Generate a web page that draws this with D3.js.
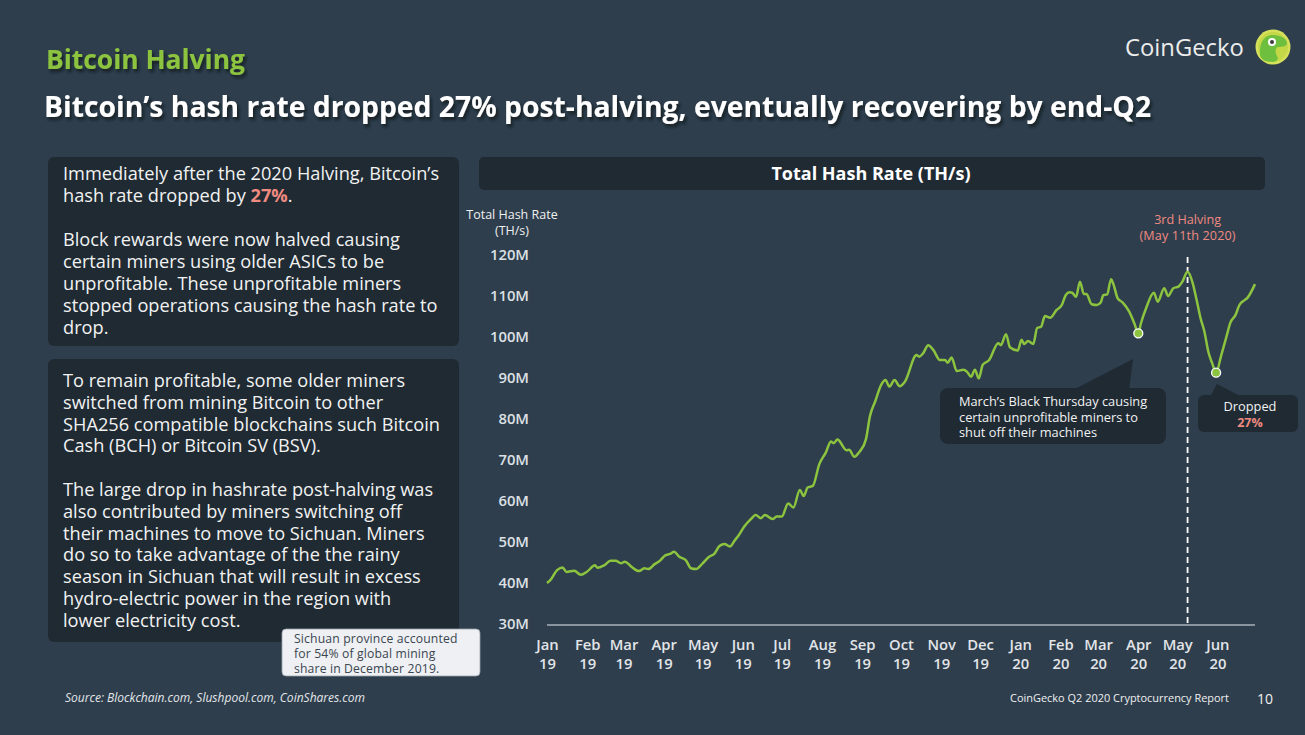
<!DOCTYPE html>
<html>
<head>
<meta charset="utf-8">
<script src="https://cdn.jsdelivr.net/npm/d3@7"></script>
<style>
  html, body { margin: 0; padding: 0; background: #2e3e4d; }
  svg { display: block; }
  text { font-family: "Open Sans", "Noto Sans", sans-serif; }
</style>
</head>
<body>
<svg id="chart" width="1305" height="735"></svg>
<script>
// ---------------- DATA ----------------
const hashDates = [
  "2019-01-01","2019-01-03","2019-01-09","2019-01-13","2019-01-16","2019-01-22","2019-01-27",
  "2019-02-01","2019-02-07","2019-02-09","2019-02-14","2019-02-19","2019-02-23","2019-02-27",
  "2019-03-02","2019-03-07","2019-03-13","2019-03-17","2019-03-20","2019-03-25","2019-03-29",
  "2019-04-02","2019-04-06","2019-04-09","2019-04-13","2019-04-18","2019-04-22","2019-04-26",
  "2019-05-01","2019-05-06","2019-05-10","2019-05-14","2019-05-18","2019-05-22","2019-05-26","2019-05-29",
  "2019-06-02","2019-06-07","2019-06-11","2019-06-15","2019-06-18","2019-06-24","2019-06-27",
  "2019-07-01","2019-07-06","2019-07-10","2019-07-15","2019-07-18","2019-07-21","2019-07-25","2019-07-30",
  "2019-08-04","2019-08-08","2019-08-10","2019-08-13","2019-08-20","2019-08-22","2019-08-26","2019-08-30",
  "2019-09-04","2019-09-07","2019-09-11","2019-09-16","2019-09-19","2019-09-22","2019-09-26","2019-09-30",
  "2019-10-04","2019-10-13","2019-10-15","2019-10-18","2019-10-22","2019-10-26","2019-10-31",
  "2019-11-04","2019-11-06","2019-11-09","2019-11-13","2019-11-18","2019-11-21","2019-11-24","2019-11-27","2019-11-30",
  "2019-12-03","2019-12-08","2019-12-15","2019-12-17","2019-12-21","2019-12-24","2019-12-30",
  "2020-01-02","2020-01-04","2020-01-07","2020-01-11","2020-01-14","2020-01-17","2020-01-20","2020-01-24","2020-01-29",
  "2020-02-02","2020-02-05","2020-02-08","2020-02-10","2020-02-13","2020-02-16","2020-02-19","2020-02-21","2020-02-25","2020-02-29",
  "2020-03-03","2020-03-05","2020-03-08","2020-03-11","2020-03-13","2020-03-16","2020-03-20","2020-03-25","2020-03-29",
  "2020-04-01","2020-04-03","2020-04-07","2020-04-13","2020-04-16","2020-04-21","2020-04-24","2020-04-28",
  "2020-05-02","2020-05-05","2020-05-09","2020-05-13","2020-05-16","2020-05-19","2020-05-22","2020-05-25","2020-05-28","2020-05-31",
  "2020-06-04","2020-06-08","2020-06-11","2020-06-15","2020-06-18","2020-06-22","2020-06-24","2020-06-30"
];
const hashValues = [
  40.0,40.5,43.2,43.8,42.7,43.0,42.0,
  42.8,44.3,43.7,44.3,45.4,45.4,44.8,
  45.2,44.0,42.9,43.6,43.4,44.6,45.4,
  46.7,47.1,47.6,46.4,45.6,43.6,43.4,
  44.8,46.4,47.1,49.0,49.5,48.9,50.5,51.7,
  53.7,55.5,56.6,55.8,56.6,55.6,56.2,
  56.2,59.4,58.4,62.7,61.2,63.3,63.7,69.0,
  71.8,74.5,74.1,75.0,72.4,72.5,70.8,72.0,
  75.1,80.6,84.2,88.5,89.5,87.9,89.5,88.0,
  89.1,95.6,95.2,96.0,98.0,96.8,94.4,
  94.4,93.7,95.0,91.7,92.0,91.5,90.3,92.0,89.9,
  93.2,94.4,98.5,98.0,100.7,97.5,96.7,
  99.3,98.3,99.0,98.3,102.2,102.5,105.1,104.7,106.6,
  107.8,110.2,110.9,110.8,109.8,113.5,110.5,110.5,108.0,107.8,
  108.4,110.2,110.4,114.1,112.7,109.5,108.4,106.2,103.3,
  100.9,103.3,107.0,110.8,108.6,111.9,110.0,111.9,
  112.3,113.5,115.9,113.1,109.0,104.6,101.3,96.4,93.6,91.3,
  95.6,100.1,103.5,105.4,107.8,109.0,109.5,112.9
];
const yTicks = [30, 40, 50, 60, 70, 80, 90, 100, 110, 120];
const monthTickDates = ["2019-01-01","2019-02-01","2019-03-01","2019-04-01","2019-05-01","2019-06-01",
  "2019-07-01","2019-08-01","2019-09-01","2019-10-01","2019-11-01","2019-12-01",
  "2020-01-01","2020-02-01","2020-03-01","2020-04-01","2020-05-01","2020-06-01"];
const monthLabels = ["Jan","Feb","Mar","Apr","May","Jun","Jul","Aug","Sep","Oct","Nov","Dec",
  "Jan","Feb","Mar","Apr","May","Jun"];
const yearLabels = ["19","19","19","19","19","19","19","19","19","19","19","19",
  "20","20","20","20","20","20"];
const halvingDate = "2020-05-09";
const markedDates = ["2020-04-01", "2020-05-31"];

const box1Lines = [
  [["Immediately after the 2020 Halving, Bitcoin’s", false]],
  [["hash rate dropped by ", false], ["27%", true], [".", false]],
  null,
  [["Block rewards were now halved causing", false]],
  [["certain miners using older ASICs to be", false]],
  [["unprofitable. These unprofitable miners", false]],
  [["stopped operations causing the hash rate to", false]],
  [["drop.", false]]
];
const box2Lines = [
  "To remain profitable, some older miners",
  "switched from mining Bitcoin to other",
  "SHA256 compatible blockchains such Bitcoin",
  "Cash (BCH) or Bitcoin SV (BSV).",
  null,
  "The large drop in hashrate post-halving was",
  "also contributed by miners switching off",
  "their machines to move to Sichuan. Miners",
  "do so to take advantage of the the rainy",
  "season in Sichuan that will result in excess",
  "hydro-electric power in the region with",
  "lower electricity cost."
];
const noteLines = ["Sichuan province accounted", "for 54% of global mining", "share in December 2019."];
const blackThursdayLines = ["March’s Black Thursday causing", "certain unprofitable miners to", "shut off their machines"];

// ---------------- DRAW ----------------
const parse = d3.timeParse("%Y-%m-%d");
const data = hashDates.map((d, i) => ({ key: d, date: parse(d), value: hashValues[i] }));

const svg = d3.select("#chart");
const BG = "#2e3e4d", DARK = "#1f2a33", GREEN = "#8cc43f", SALMON = "#f08a80";

svg.append("rect").attr("width", 1305).attr("height", 735).attr("fill", BG);

const defs = svg.append("defs");
const f = defs.append("filter").attr("id", "shadow").attr("x", "-10%").attr("y", "-30%").attr("width", "130%").attr("height", "170%");
f.append("feDropShadow").attr("dx", 2).attr("dy", 3).attr("stdDeviation", 1.5).attr("flood-color", "#0d141a").attr("flood-opacity", 0.8);

// Headings
svg.append("text").attr("x", 46).attr("y", 69).attr("fill", "#8cc43f")
  .attr("font-size", 26.4).attr("font-weight", 700).attr("filter", "url(#shadow)").text("Bitcoin Halving");
svg.append("text").attr("x", 44).attr("y", 117).attr("fill", "#ffffff")
  .attr("font-size", 28.3).attr("font-weight", 700).attr("filter", "url(#shadow)")
  .text("Bitcoin’s hash rate dropped 27% post-halving, eventually recovering by end-Q2");

// CoinGecko logo
svg.append("text").attr("x", 1125).attr("y", 56).attr("fill", "#ececec")
  .attr("font-family", "'Liberation Sans', Arial, sans-serif").attr("font-size", 23.8).text("CoinGecko");
const logo = svg.append("g").attr("transform", "translate(1273,47)");
logo.append("circle").attr("r", 17.5).attr("fill", "#d6e05a");
logo.append("circle").attr("r", 15).attr("fill", "#c3d747");
logo.append("path").attr("fill", "#6fbf3f")
  .attr("d", "M-13,8 C-14,-4 -9,-12 0,-12 C8,-12 14,-8 14,-4 C14,-1 10,0 5,0 C2,1 2,5 4,9 C6,12 4,15 0,15 C-7,15 -12,13 -13,8 Z");
logo.append("circle").attr("cx", -1).attr("cy", -5).attr("r", 4).attr("fill", "#ffffff");
logo.append("circle").attr("cx", -1).attr("cy", -5).attr("r", 2).attr("fill", "#3a3a3a");

// Left boxes
svg.append("rect").attr("x", 48).attr("y", 157).attr("width", 411).attr("height", 189).attr("rx", 6).attr("fill", DARK);
svg.append("rect").attr("x", 48).attr("y", 359).attr("width", 411).attr("height", 283).attr("rx", 6).attr("fill", DARK);

const FS = 18.2, lh = 21.8;
box1Lines.forEach((line, i) => {
  if (!line) return;
  const t = svg.append("text").attr("x", 63).attr("y", 180 + i * lh + (i >= 3 ? 1 : 0))
    .attr("fill", "#f2f2f2").attr("font-size", FS);
  line.forEach(([s, hi]) => {
    t.append("tspan").text(s).attr("fill", hi ? SALMON : null).attr("font-weight", hi ? 700 : null);
  });
});
box2Lines.forEach((line, i) => {
  if (!line) return;
  svg.append("text").attr("x", 63).attr("y", 387 + i * lh)
    .attr("fill", "#f2f2f2").attr("font-size", FS).text(line);
});

// Sichuan note
svg.append("rect").attr("x", 282).attr("y", 629).attr("width", 198).attr("height", 47).attr("rx", 4)
  .attr("fill", "#eef0f3").attr("stroke", "#9aa3ab").attr("stroke-width", 0.8);
noteLines.forEach((s, i) => {
  svg.append("text").attr("x", 294).attr("y", 643 + i * 15).attr("fill", "#3b4650")
    .attr("font-size", 12.2).attr("letter-spacing", 0.15).text(s);
});

// Chart title bar
svg.append("rect").attr("x", 479).attr("y", 157).attr("width", 786).attr("height", 33).attr("rx", 5).attr("fill", DARK);
svg.append("text").attr("x", 871).attr("y", 179.5).attr("text-anchor", "middle").attr("fill", "#ffffff")
  .attr("font-size", 18).attr("font-weight", 700).text("Total Hash Rate (TH/s)");

// Scales
const x = d3.scaleTime().domain([parse("2019-01-01"), parse("2020-06-30")]).range([547, 1255]);
const y = d3.scaleLinear().domain([30, 120]).range([624, 255]);

// Y axis title
svg.append("text").attr("x", 512).attr("y", 219).attr("text-anchor", "middle").attr("fill", "#f0f0f0")
  .attr("font-size", 12.5).text("Total Hash Rate");
svg.append("text").attr("x", 512).attr("y", 235).attr("text-anchor", "middle").attr("fill", "#f0f0f0")
  .attr("font-size", 12.5).text("(TH/s)");

// Y axis
const yAxis = svg.append("g").attr("transform", "translate(529,0)")
  .call(d3.axisLeft(y).tickValues(yTicks).tickSize(0).tickPadding(0).tickFormat(d => d + "M"));
yAxis.select(".domain").remove();
yAxis.selectAll("text").attr("fill", "#dde1e5").attr("font-size", 14.8).attr("font-weight", 600)
  .attr("font-family", "'Open Sans', sans-serif");

// X axis
const xAxis = svg.append("g").attr("transform", "translate(0,625)")
  .call(d3.axisBottom(x).tickValues(monthTickDates.map(parse)).tickSize(0).tickPadding(0).tickFormat(() => ""));
xAxis.select(".domain").attr("stroke", "#aab2ba").attr("stroke-width", 1.5).attr("d", `M${x.range()[0]},0H${x.range()[1]}`);
xAxis.selectAll(".tick text").each(function (d, i) {
  const t = d3.select(this).attr("fill", "#e2e5e8").attr("font-size", 14.8).attr("font-weight", 600)
    .attr("font-family", "'Open Sans', sans-serif").attr("dy", 0).attr("y", 0);
  t.append("tspan").attr("x", 0).attr("y", 25).text(monthLabels[i]);
  t.append("tspan").attr("x", 0).attr("y", 44).text(yearLabels[i]);
});

// Halving line
const hx = x(parse(halvingDate));
svg.append("line").attr("x1", hx).attr("x2", hx).attr("y1", 257).attr("y2", 625)
  .attr("stroke", "#ffffff").attr("stroke-width", 1.8).attr("stroke-dasharray", "6,4");
svg.append("text").attr("x", hx).attr("y", 223.5).attr("text-anchor", "middle").attr("fill", SALMON)
  .attr("font-size", 12.6).text("3rd Halving");
svg.append("text").attr("x", hx).attr("y", 240).attr("text-anchor", "middle").attr("fill", SALMON)
  .attr("font-size", 12.6).attr("letter-spacing", 0.15).text("(May 11th 2020)");

// Line
svg.append("path").datum(data)
  .attr("fill", "none").attr("stroke", GREEN).attr("stroke-width", 2.5).attr("stroke-linejoin", "round")
  .attr("d", d3.line().x(d => x(d.date)).y(d => y(d.value)).curve(d3.curveMonotoneX));

// Marked points
markedDates.forEach(md => {
  const p = data.find(d => d.key === md);
  svg.append("circle").attr("cx", x(p.date)).attr("cy", y(p.value)).attr("r", 4.5)
    .attr("fill", GREEN).attr("stroke", "#ffffff").attr("stroke-width", 1.3);
});

// Black Thursday callout
svg.append("path").attr("fill", DARK).attr("d", "M1073,390 L1133,359 L1129,390 Z");
svg.append("rect").attr("x", 940).attr("y", 388).attr("width", 226).attr("height", 56).attr("rx", 8).attr("fill", DARK);
blackThursdayLines.forEach((s, i) => {
  svg.append("text").attr("x", 959).attr("y", 406 + i * 15.5).attr("fill", "#f2f2f2")
    .attr("font-size", 12.8).text(s);
});

// Dropped callout
svg.append("path").attr("fill", DARK).attr("d", "M1210,397 L1217,384 L1242,397 Z");
svg.append("rect").attr("x", 1198).attr("y", 395).attr("width", 100).attr("height", 37).attr("rx", 6).attr("fill", DARK);
svg.append("text").attr("x", 1250).attr("y", 411).attr("text-anchor", "middle").attr("fill", "#f2f2f2")
  .attr("font-size", 12.8).text("Dropped");
svg.append("text").attr("x", 1250).attr("y", 427).attr("text-anchor", "middle").attr("fill", SALMON)
  .attr("font-size", 12.5).attr("font-weight", 700).text("27%");

// Footer
svg.append("text").attr("x", 65).attr("y", 702).attr("fill", "#e4e7ea").attr("font-size", 12)
  .attr("font-style", "italic").attr("textLength", 300).attr("lengthAdjust", "spacingAndGlyphs")
  .text("Source: Blockchain.com, Slushpool.com, CoinShares.com");
svg.append("text").attr("x", 1010).attr("y", 702).attr("fill", "#f0f0f0").attr("font-size", 11.5)
  .attr("textLength", 219).attr("lengthAdjust", "spacingAndGlyphs")
  .text("CoinGecko Q2 2020 Cryptocurrency Report");
svg.append("text").attr("x", 1257).attr("y", 704).attr("fill", "#f0f0f0").attr("font-size", 15)
  .attr("textLength", 16).attr("lengthAdjust", "spacingAndGlyphs").text("10");
</script>
</body>
</html>
